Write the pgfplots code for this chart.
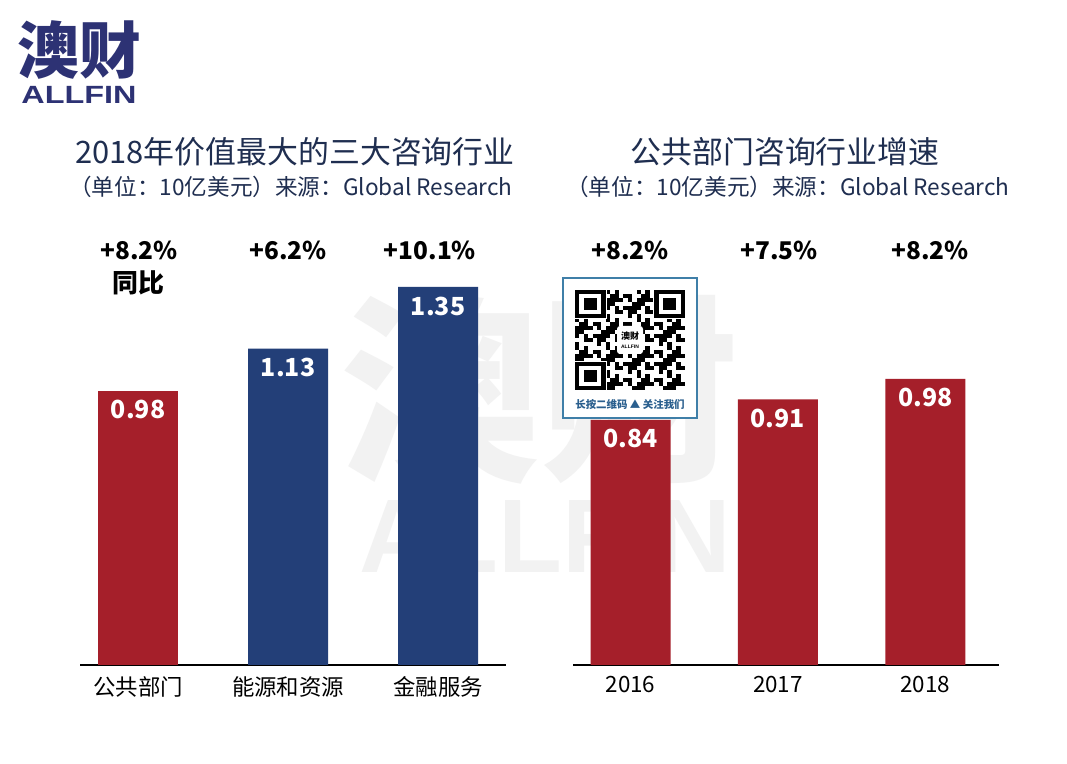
\documentclass[border=0pt]{standalone}
\usepackage{fontspec}
\setmainfont{Noto Sans CJK SC}
\newfontfamily\latinfont{Liberation Sans}
\usepackage{pgfplots}
\pgfplotsset{compat=1.18}

\definecolor{barred}{HTML}{A51F2A}
\definecolor{barblue}{HTML}{233F78}
\definecolor{navy}{HTML}{1F2E50}
\definecolor{logoblue}{HTML}{2D3274}
\definecolor{qrblue}{HTML}{3F7FA8}
\definecolor{qrtext}{HTML}{2A5F8E}
\definecolor{wmark}{HTML}{F2F2F2}

\newcommand{\fs}[1]{\fontsize{#1}{#1}\selectfont}

\pgfplotsset{
  panel/.style={
    ybar, bar width=80bp, bar shift=0pt,
    scale only axis, width=426bp,
    ymin=0, ymax=1.6,
    axis x line*=bottom, axis y line=none,
    axis line style={-, line width=2.6bp, black},
    xtick={0,1,2}, major tick length=0pt,
    xticklabel style={font=\fs{22.5}, yshift=-8bp},
    nodes near coords={\textbf{\pgfmathprintnumber{\pgfplotspointmeta}}},
    every node near coord/.append style={font=\fs{25}, text=white, anchor=center, yshift=-19bp},
    /pgf/number format/fixed,
    /pgf/number format/zerofill,
    /pgf/number format/precision=2,
    /pgf/number format/assume math mode=true,
  },
}

\begin{document}
\begin{tikzpicture}[x=1bp, y=1bp]
\useasboundingbox (0,0) rectangle (1067,764);
\fill[white] (0,0) rectangle (1067,764);

% watermark
\node[text=wmark, font=\fs{200}\bfseries] at (540,374) {澳财};
\node[text=wmark, font=\latinfont\fs{105}\bfseries] at (545,227) {ALLFIN};

% logo
\node[text=logoblue, font=\fs{62}\bfseries] at (79,714) {澳财};
\node[text=logoblue, font=\latinfont\fs{25}\bfseries, xscale=1.3] at (79,669) {ALLFIN};

% left panel
\begin{axis}[panel, at={(80bp,99bp)}, anchor=south west, height=448bp,
  xmin=-0.387, xmax=2.453,
  xticklabels={公共部门,能源和资源,金融服务}]
\addplot[fill=barred, draw=none] coordinates {(0,0.98)};
\addplot[fill=barblue, draw=none] coordinates {(1,1.13) (2,1.35)};
\end{axis}

% right panel
\begin{axis}[panel, at={(573bp,99bp)}, anchor=south west, height=467bp,
  xmin=-0.39, xmax=2.5,
  xticklabels={2016,2017,2018}]
\addplot[fill=barred, draw=none] coordinates {(0,0.84) (1,0.91) (2,0.98)};
\end{axis}

% titles
\node[text=navy, font=\fs{31}] at (295,612) {2018年价值最大的三大咨询行业};
\node[text=navy, font=\fs{22.7}] at (291,577) {（单位：10亿美元）来源：Global Research};
\node[text=navy, font=\fs{31}] at (785,612) {公共部门咨询行业增速};
\node[text=navy, font=\fs{22.7}] at (788,577) {（单位：10亿美元）来源：Global Research};

% growth labels
\foreach \x/\t in {139/+8.2\%, 288/+6.2\%, 430/+10.1\%, 630/+8.2\%, 779/+7.5\%, 930/+8.2\%}
  \node[font=\fs{24.5}\bfseries] at (\x,514) {\t};
\node[font=\fs{26}\bfseries] at (138,481) {同比};

% QR badge
\fill[white] (563,346) rectangle (697,486);
\draw[qrblue, line width=1.5bp] (563,346) rectangle (697,486);
\foreach \i in {0,...,24}{
  \foreach \j in {0,...,24}{
    \pgfmathtruncatemacro\k{mod(\i*\i*3+\j*7+\i*\j*5+\j*\j,7)}
    \ifnum\k<4 \fill (575+\i*4.4,374+\j*4) rectangle ++(4.4,4); \fi
  }
}
\foreach \cx/\cy in {575/446, 654.2/446, 575/374}{
  \fill[white] (\cx-1,\cy-1) rectangle ++(32.8,30);
  \fill (\cx,\cy) rectangle ++(30.8,28);
  \fill[white] (\cx+4.4,\cy+4) rectangle ++(22,20);
  \fill (\cx+8.8,\cy+8) rectangle ++(13.2,12);
}
\fill[white, rounded corners=3bp] (617,410) rectangle (643,438);
\node[font=\fs{9}\bfseries] at (630,428) {澳财};
\node[font=\latinfont\fs{5}\bfseries] at (630,417) {ALLFIN};
\node[text=qrtext, font=\fs{10.5}\bfseries] at (630,359) {长按二维码 ▲ 关注我们};
\end{tikzpicture}
\end{document}
